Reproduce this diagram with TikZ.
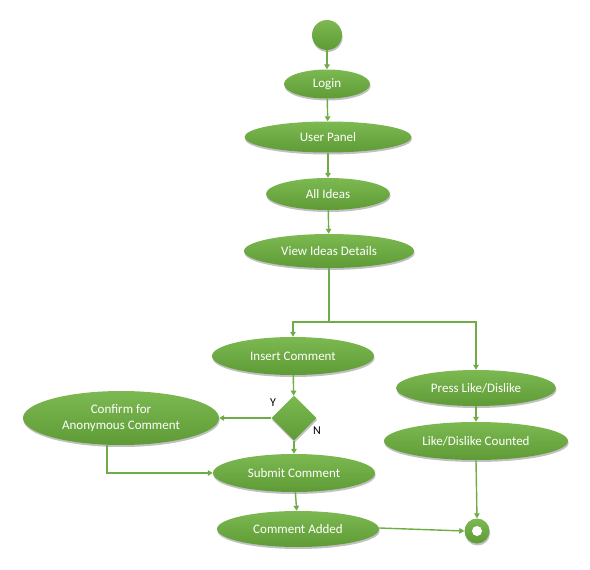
\documentclass[tikz,border=0pt]{standalone}
\usepackage{fontspec}
\setmainfont{Carlito}
\usetikzlibrary{shapes.geometric,arrows.meta,shadows}
\definecolor{flowline}{HTML}{6FAC46}
\definecolor{filltop}{HTML}{7DB951}
\definecolor{fillbot}{HTML}{5E9B36}
\begin{document}
\begin{tikzpicture}[x=1pt,y=-1pt,
  every node/.style={font=\fontsize{13}{16}\selectfont},
  act/.style={ellipse, inner sep=0pt, text=white, align=center,
    top color=filltop, bottom color=fillbot, draw=none,
    drop shadow={shadow xshift=0.6pt, shadow yshift=-2pt, opacity=0.35, fill=black!70}},
  conn/.style={draw=flowline, line width=1.4pt, -{Triangle[length=5pt,width=5.5pt]}},
  plain/.style={draw=flowline, line width=1.4pt},
  lbl/.style={text=black, font=\fontsize{12}{14}\selectfont}]
\useasboundingbox (0,0) rectangle (590,570);

% activities
\node[circle, minimum size=30pt, inner sep=0pt, top color=filltop, bottom color=fillbot,
  drop shadow={shadow xshift=0.6pt, shadow yshift=-2pt, opacity=0.35, fill=black!70}] (start) at (327,35) {};
\node[act, minimum width=86pt, minimum height=29pt] (login) at (327,84) {Login};
\node[act, minimum width=167pt, minimum height=31pt] (panel) at (328,137) {User Panel};
\node[act, minimum width=124pt, minimum height=32pt] (ideas) at (328,194) {All Ideas};
\node[act, minimum width=170pt, minimum height=34pt] (view) at (329,251) {View Ideas Details};
\node[act, minimum width=162pt, minimum height=38pt] (insert) at (293,356) {Insert Comment};
\node[act, minimum width=160pt, minimum height=36pt] (press) at (476,388) {Press Like/Dislike};
\node[diamond, minimum width=45pt, minimum height=45pt, inner sep=0pt, aspect=1,
  top color=filltop, bottom color=fillbot,
  drop shadow={shadow xshift=0.6pt, shadow yshift=-2pt, opacity=0.35, fill=black!70}] (dec) at (294,418) {};
\node[act, minimum width=196pt, minimum height=54pt] (confirm) at (121,418) {Confirm for\\Anonymous Comment};
\node[act, minimum width=184pt, minimum height=38pt] (counted) at (476,441) {Like/Dislike Counted};
\node[act, minimum width=162pt, minimum height=38pt] (submit) at (294,473) {Submit Comment};
\node[act, minimum width=162pt, minimum height=36pt] (added) at (298,529) {Comment Added};

% final state: ring
\node[circle, minimum size=25pt, inner sep=0pt, top color=filltop, bottom color=fillbot,
  drop shadow={shadow xshift=0.6pt, shadow yshift=-2pt, opacity=0.35, fill=black!70}] (final) at (477,531) {};
\node[circle, minimum size=10pt, inner sep=0pt, fill=white] (finalhole) at (final.center) {};

% decision labels
\node[lbl] (ylab) at (273,403) {Y};
\node[lbl] (nlab) at (317,431) {N};

% connectors
\coordinate (fork) at (329,322);
\draw[conn] (start) -- (login);
\draw[conn] (login) -- (panel);
\draw[conn] (panel) -- (ideas);
\draw[conn] (ideas) -- (view);
\draw[plain] (view.south) -- (fork);
\draw[conn] (fork) -| (insert.north);
\draw[conn] (fork) -| (press.north);
\draw[conn] (insert) -- (dec);
\draw[conn] (dec.west) -- (confirm.east);
\draw[conn] (dec.south) -- (submit.north);
\draw[conn] ([xshift=-14pt]confirm.south) |- (submit.west);
\draw[conn] (submit) -- (added);
\draw[conn] (press) -- (counted);
\draw[conn] (counted.south) -- (final.north);
\draw[conn] ([yshift=1pt]added.east) -- (final.west);
\end{tikzpicture}
\end{document}
